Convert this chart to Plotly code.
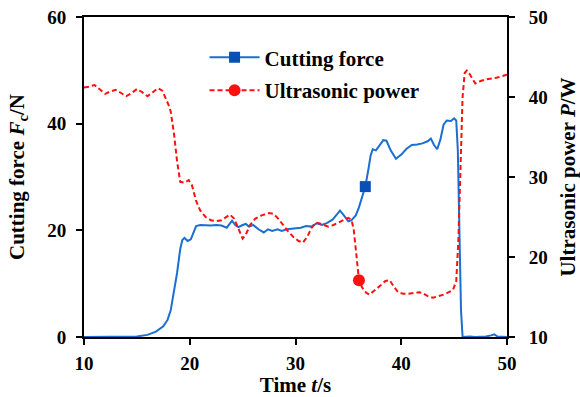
import plotly.graph_objects as go

# Cutting force (N), left axis
force_t = [10, 14, 15, 16, 16.8, 17.5, 17.9, 18.2, 18.5, 18.8, 19.1, 19.3, 19.5, 19.8, 20.1, 20.4, 20.6,
           21, 22, 22.5, 23, 23.5, 23.8, 24, 24.3, 24.6, 25, 25.3, 25.6, 26, 26.5, 27, 27.4, 27.8, 28.3,
           28.7, 29.2, 29.6, 30, 30.5, 31, 31.5, 32, 32.5, 33, 33.5, 34.0, 34.2, 34.5, 35, 35.3, 35.7,
           36.0, 36.3, 36.6, 36.9, 37.1, 37.3, 37.6, 37.9, 38.3, 38.6, 39.0, 39.5, 40.0, 40.5, 41, 41.5,
           42, 42.5, 42.8, 43.1, 43.4, 43.7, 44.0, 44.3, 44.7, 45.0, 45.2, 45.35, 45.5, 45.65, 45.8,
           46.5, 47, 48, 48.5, 48.8, 49.1, 49.5, 50]
force_N = [0, 0, 0.1, 0.4, 1.0, 2.0, 3.2, 5, 8.5, 12, 16.5, 18.2, 18.6, 18.0, 18.3, 19.8, 20.8,
           21.0, 20.9, 21.0, 20.9, 20.5, 21.2, 21.8, 21.0, 20.6, 21.0, 21.2, 20.7, 21.0, 20.2, 19.6, 20.2,
           19.9, 20.2, 19.9, 20.2, 20.3, 20.3, 20.5, 20.8, 20.7, 21.3, 21.0, 21.4, 22.0, 23.2, 23.7, 23.0,
           21.7, 21.9, 22.8, 24.3, 26.5, 28.2, 31.5, 34.0, 35.2, 35.0, 35.8, 36.9, 36.8, 35.0, 33.4, 34.2,
           35.3, 36.0, 36.1, 36.3, 36.7, 37.2, 36.0, 35.2, 37.0, 39.8, 40.6, 40.5, 41.0, 40.6, 35, 20, 5,
           0, 0.1, 0.0, 0.1, 0.3, 0.5, 0.1, 0, 0]
force_marker_t = [36.6]
force_marker_N = [28.2]

# Ultrasonic power (W), right axis
power_t = [10, 10.5, 11, 11.5, 12, 12.5, 13, 13.5, 14, 14.5, 15, 15.5, 16, 16.5, 17, 17.4, 17.7, 18,
           18.2, 18.5, 18.8, 19.1, 19.5, 19.9, 20.2, 20.6, 21, 21.5, 22, 22.5, 23, 23.5, 23.8, 24.2,
           24.6, 25, 25.3, 25.7, 26.2, 26.8, 27.5, 27.9, 28.3, 28.8, 29.3, 29.8, 30.3, 30.7, 31.1, 31.5,
           31.9, 32.3, 32.7, 33.1, 33.6, 34.1, 34.6, 35.0, 35.3, 35.5, 35.7, 35.9, 36.0, 36.3, 36.7,
           37.0, 37.5, 38.0, 38.5, 38.9, 39.3, 39.7, 40.2, 40.7, 41.2, 41.7, 42.0, 42.5, 43.0, 43.5,
           44.0, 44.5, 44.9, 45.2, 45.4, 45.6, 45.8, 46.0, 46.2, 46.5, 47.0, 47.5, 48.0, 49.0, 50.0]
power_W = [41.2, 41.3, 41.5, 41.0, 40.4, 40.7, 40.9, 40.5, 40.1, 40.5, 41.0, 40.6, 40.1, 40.6, 41.1,
           40.8, 40.0, 39.0, 38.2, 35.5, 32.0, 29.4, 29.3, 29.6, 29.0, 27.0, 25.8, 25.0, 24.6, 24.5,
           24.6, 25.0, 25.3, 24.8, 23.5, 22.3, 22.8, 24.0, 24.8, 25.2, 25.5, 25.4, 24.9, 24.0, 23.2,
           22.5, 22.0, 21.8, 22.5, 23.6, 24.3, 24.2, 24.0, 23.8, 24.0, 24.3, 24.7, 24.9, 24.6, 23.5,
           21.0, 18.3, 17.1, 16.2, 15.5, 15.3, 15.8, 16.4, 17.0, 17.1, 16.3, 15.6, 15.4, 15.4, 15.5,
           15.6, 15.5, 15.1, 14.9, 15.1, 15.3, 15.6, 15.9, 17.0, 22, 31, 40, 43.0, 43.3, 42.8, 41.7,
           42.0, 42.2, 42.4, 42.8]
power_marker_t = [36.0]
power_marker_W = [17.1]

x_ticks = [10, 20, 30, 40, 50]
yl_ticks = [0, 20, 40, 60]
yr_ticks = [10, 20, 30, 40, 50]

BLUE = "#1a6fd0"
BLUE_M = "#0a4fb5"
RED = "#ff1010"
FONT = "Liberation Serif"

fig = go.Figure()
fig.add_trace(go.Scatter(x=power_t, y=power_W, mode="lines", yaxis="y2", showlegend=False,
                         line=dict(color=RED, width=2, dash="5px,3px")))
fig.add_trace(go.Scatter(x=force_t, y=force_N, mode="lines", showlegend=False,
                         line=dict(color=BLUE, width=2)))
fig.add_trace(go.Scatter(x=force_marker_t, y=force_marker_N, mode="lines+markers",
                         name="<b>Cutting force</b>", legend="legend",
                         line=dict(color=BLUE, width=2),
                         marker=dict(symbol="square", size=11, color=BLUE_M)))
fig.add_trace(go.Scatter(x=power_marker_t, y=power_marker_W, mode="lines+markers",
                         name="<b>Ultrasonic power</b>", legend="legend2", yaxis="y2",
                         line=dict(color=RED, width=2, dash="5px,3px"),
                         marker=dict(symbol="circle", size=12, color=RED)))

axis_common = dict(showline=True, linecolor="black", linewidth=2, ticks="outside", ticklen=6,
                   tickwidth=2, tickcolor="black", showgrid=False, zeroline=False, automargin=False,
                   tickfont=dict(family=FONT, size=19, color="black", weight="bold"))
title_font = dict(family=FONT, size=21, color="black", weight="bold")
legend_common = dict(xanchor="left", yanchor="top", bgcolor="rgba(0,0,0,0)", itemwidth=50,
                     font=dict(family=FONT, size=21, color="black", weight="bold"))

fig.update_layout(
    width=580, height=397,
    margin=dict(l=84, r=73, t=17, b=60),
    paper_bgcolor="white", plot_bgcolor="white",
    xaxis=dict(range=[10, 50], tickvals=x_ticks, mirror=True, ticklabelstandoff=2,
               title=dict(text="<b>Time <i>t</i>/s</b>", standoff=1, font=title_font),
               **axis_common),
    yaxis=dict(range=[0, 60], tickvals=yl_ticks, ticklabelstandoff=6,
               title=dict(text="<b>Cutting force <i>F</i><sub>c</sub>/N</b>", standoff=17, font=title_font),
               **axis_common),
    yaxis2=dict(range=[10, 50], tickvals=yr_ticks, overlaying="y", side="right", ticklabelstandoff=10,
                title=dict(text="<b>Ultrasonic power <i>P</i>/W</b>", standoff=20, font=title_font),
                **axis_common),
    legend=dict(x=0.285, y=0.937, **legend_common),
    legend2=dict(x=0.285, y=0.834, **legend_common),
)

fig.write_html("out.html")
